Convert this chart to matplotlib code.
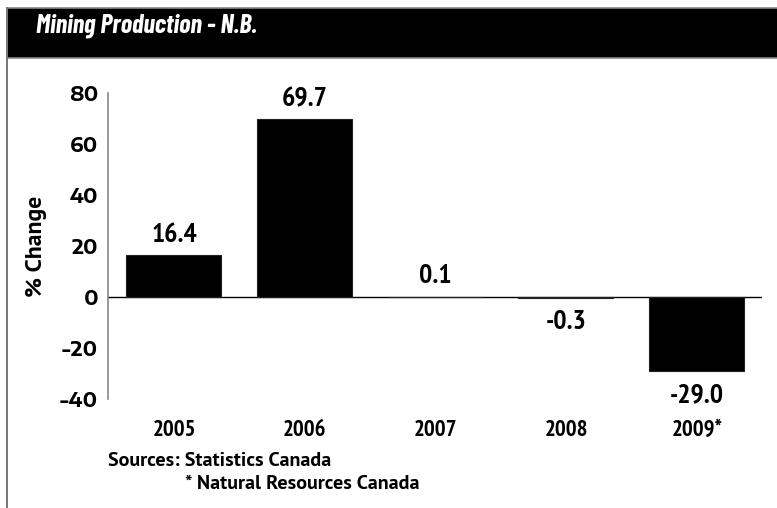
import matplotlib.pyplot as plt
from matplotlib.patches import Rectangle
from matplotlib.lines import Line2D

years = ['2005', '2006', '2007', '2008', '2009*']
changes = [16.4, 69.7, 0.1, -0.3, -29.0]
labels = ['16.4', '69.7', '0.1', '-0.3', '-29.0']
yticks = [-40, -20, 0, 20, 40, 60, 80]

W, H = 777, 508
narrow = ['PT Sans Narrow', 'DejaVu Sans']
wide = ['PT Sans', 'DejaVu Sans']

fig = plt.figure(figsize=(W / 100, H / 100), dpi=100)
# axes box in pixels: x 108..762, y 93..399
ax = fig.add_axes([108 / W, 1 - 399 / H, (762 - 108) / W, (399 - 93) / H])

x = list(range(len(years)))
ax.bar(x, changes, width=0.727, color='black', edgecolor='#222222', linewidth=0.8, zorder=2)
ax.axhline(0, color='black', linewidth=1.0, zorder=1)

for xi, v, lab in zip(x, changes, labels):
    if v >= 0:
        ax.annotate(lab, (xi, v), xytext=(0, 6), textcoords='offset points',
                    ha='center', va='bottom', fontsize=20, fontweight='bold', family=narrow)
    else:
        ax.annotate(lab, (xi, v), xytext=(0, -9), textcoords='offset points',
                    ha='center', va='top', fontsize=20, fontweight='bold', family=narrow)

ax.set_xlim(-0.505, 4.5)
ax.set_ylim(-40, 80)
ax.set_yticks(yticks)
ax.set_yticklabels([str(t) for t in yticks], fontsize=14, fontweight='bold',
                   family=['Encode Sans Expanded', 'DejaVu Sans'])
ax.set_xticks(x)
ax.set_xticklabels(years, fontsize=16.5, fontweight='bold', family=narrow)
ax.tick_params(axis='y', length=0, pad=7)
ax.tick_params(axis='x', length=0, pad=15)

for side in ['top', 'right', 'bottom']:
    ax.spines[side].set_visible(False)
ax.spines['left'].set_color('#888888')
ax.spines['left'].set_linewidth(1.2)

ax.set_ylabel('% Change', fontsize=17, fontweight='bold', family=wide)
ax.yaxis.set_label_coords(-0.093, 0.5)

# header bar and frame
fig.patches.append(Rectangle((7 / W, 1 - 58 / H), 1, 50 / H, transform=fig.transFigure,
                             facecolor='black', edgecolor='#888888', linewidth=1.2))
fig.lines.append(Line2D([7 / W, 7 / W], [0, 1 - 8 / H], transform=fig.transFigure,
                        color='#777777', linewidth=1.4))
fig.text(36 / W, 1 - 32 / H, 'Mining Production - N.B.', color='white', fontsize=19,
         fontweight='bold', fontstyle='italic', family=['Barlow Condensed', 'DejaVu Sans'],
         va='baseline', ha='left')

fig.text(108 / W, 1 - 466 / H, 'Sources: Statistics Canada', fontsize=14.5, fontweight='bold',
         family=wide, va='baseline', ha='left')
fig.text(185 / W, 1 - 489 / H, '* Natural Resources Canada', fontsize=14.5, fontweight='bold',
         family=wide, va='baseline', ha='left')

fig.savefig('out.png', dpi=100)
